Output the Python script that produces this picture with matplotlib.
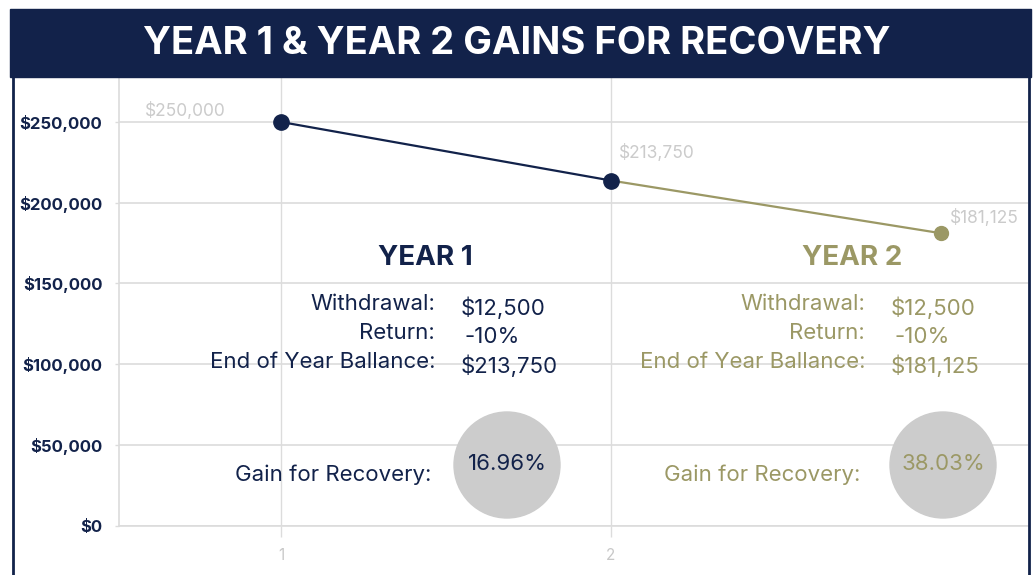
import matplotlib
matplotlib.use("Agg")
import matplotlib.pyplot as plt
from matplotlib.patches import Ellipse, Rectangle
from matplotlib.lines import Line2D

# ---- data ----
years = [1, 2, 3]
balances = [250000, 213750, 181125]
point_labels = ["$250,000", "$213,750", "$181,125"]
y_ticks = [0, 50000, 100000, 150000, 200000, 250000]
y_tick_labels = ["$0", "$50,000", "$100,000", "$150,000", "$200,000", "$250,000"]
x_ticks = [1, 2]
x_tick_labels = ["1", "2"]

panel_titles = ["YEAR 1", "YEAR 2"]
withdrawals = ["$12,500", "$12,500"]
returns = ["-10%", "-10%"]
end_balances = ["$213,750", "$181,125"]
gains = ["16.96%", "38.03%"]

NAVY = "#12224a"
OLIVE = "#9b9865"
LABEL_GREY = "#cbcbcb"
GRID = "#dcdcdc"
CIRCLE = "#cccccc"
FONT = ["Inter", "DejaVu Sans"]

W, H = 1034, 575
plt.rcParams["font.family"] = FONT
fig = plt.figure(figsize=(W / 100, H / 100), dpi=100)

def fx(px):
    return px / W

def fy(py):
    return 1 - py / H

# border frame
fig.add_artist(Line2D([fx(12.5), fx(12.5)], [fy(575), fy(60)], color=NAVY, lw=2))
fig.add_artist(Line2D([fx(1029), fx(1029)], [fy(575), fy(60)], color=NAVY, lw=2))
# title banner
fig.add_artist(Rectangle((fx(10), fy(77)), fx(1031) - fx(10), fy(9) - fy(77),
                         color=NAVY, transform=fig.transFigure, zorder=5))
fig.text(fx(517), fy(44), "YEAR 1 & YEAR 2 GAINS FOR RECOVERY", color="white",
         fontsize=27.5, fontweight="bold", ha="center", va="center", zorder=6)

# axes
ax = fig.add_axes([fx(119), fy(525.7), fx(1028) - fx(119), fy(78) - fy(525.7)])
ax.set_xlim(0.509, 3.264)
ax.set_ylim(0, 277240)
for s in ["top", "right"]:
    ax.spines[s].set_visible(False)
for s in ["left", "bottom"]:
    ax.spines[s].set_color(GRID)
    ax.spines[s].set_linewidth(1.2)
ax.set_yticks(y_ticks)
ax.set_yticklabels(y_tick_labels)
ax.set_xticks(x_ticks)
ax.set_xticklabels(x_tick_labels)
ax.tick_params(axis="y", colors=GRID, length=3, width=1, labelcolor=NAVY, labelsize=12, pad=9)
ax.tick_params(axis="x", colors=GRID, length=8, width=1, labelcolor="#c8c8c8", labelsize=11, pad=8)
for t in ax.get_yticklabels():
    t.set_fontweight("bold")
ax.grid(axis="y", color=GRID, lw=1.2)
for xv in x_ticks:
    ax.axvline(xv, color=GRID, lw=1, zorder=0)
ax.set_axisbelow(True)

# lines
ax.plot(years[0:2], balances[0:2], color=NAVY, lw=1.6, zorder=3)
ax.plot(years[1:3], balances[1:3], color=OLIVE, lw=1.6, zorder=3)
ax.plot(years[0:2], balances[0:2], "o", color=NAVY, ms=11, zorder=4)
ax.plot(years[2:3], balances[2:3], "o", color=OLIVE, ms=10, zorder=4)

offsets = [(-69, 8), (33, 20), (31, 11)]
for xv, yv, lab, off in zip(years, balances, point_labels, offsets):
    ax.annotate(lab, (xv, yv), xytext=off, textcoords="offset points",
                ha="center", va="center", color=LABEL_GREY, fontsize=12.5)

# panels
panels = [
    dict(color=NAVY, title_x=425, lab_x=435, val_x=461, gain_lab_x=431, circ_x=507),
    dict(color=OLIVE, title_x=852, lab_x=865, val_x=891, gain_lab_x=860, circ_x=943),
]
for i, p in enumerate(panels):
    c = p["color"]
    fig.text(fx(p["title_x"]), fy(258), panel_titles[i], color=c, fontsize=20,
             fontweight="bold", ha="center", va="center")
    rows = [("Withdrawal:", withdrawals[i], 304, 0),
            ("Return:", returns[i], 333, 4),
            ("End of Year Ballance:", end_balances[i], 362, 0)]
    for lab, val, yy, dx in rows:
        fig.text(fx(p["lab_x"]), fy(yy), lab, color=c, fontsize=16, ha="right", va="center")
        fig.text(fx(p["val_x"] + dx), fy(yy + 4), val, color=c, fontsize=16, ha="left", va="center")
    fig.text(fx(p["gain_lab_x"]), fy(475), "Gain for Recovery:", color=c, fontsize=16,
             ha="right", va="center")
    fig.add_artist(Ellipse((fx(p["circ_x"]), fy(465)), 106 / W, 106 / H,
                           transform=fig.transFigure, color=CIRCLE, zorder=5))
    fig.text(fx(p["circ_x"]), fy(464), gains[i], color=c, fontsize=16, ha="center",
             va="center", zorder=6)

fig.savefig("out.png", dpi=100)
